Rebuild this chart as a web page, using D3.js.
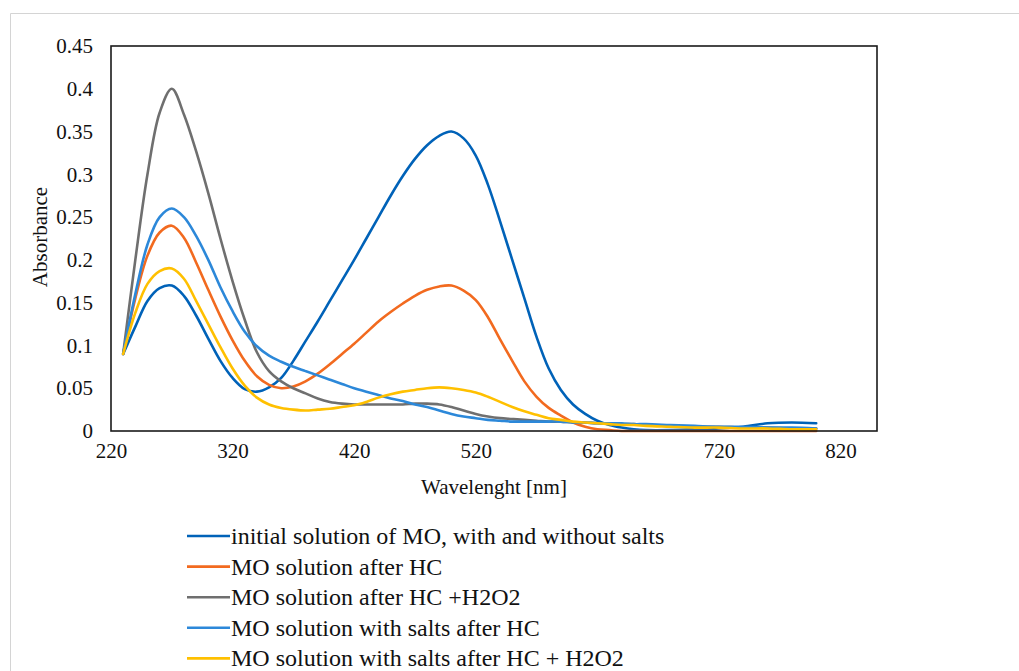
<!DOCTYPE html>
<html>
<head>
<meta charset="utf-8">
<script src="https://cdnjs.cloudflare.com/ajax/libs/d3/7.8.5/d3.min.js"></script>
<style>
  html, body { margin: 0; padding: 0; background: #fff; }
  svg text { font-family: "Liberation Serif", "Times New Roman", serif; fill: #111; }
</style>
</head>
<body>
<script>
"use strict";

// wavelengths shared by all series (nm)
const wavelengths = [
    230, 240, 250, 260, 270, 280, 290, 300, 310, 320,
    330, 340, 350, 360, 370, 380, 390, 400, 410, 420,
    430, 440, 450, 460, 470, 480, 490, 500, 510, 520,
    530, 540, 550, 560, 570, 580, 590, 600, 610, 620,
    630, 640, 650, 660, 680, 700, 720, 740, 760, 780,
    800];

const initialMO = [
    0.09, 0.122, 0.152, 0.167, 0.17, 0.158, 0.135, 0.108, 0.082, 0.062,
    0.049, 0.046, 0.051, 0.062, 0.082, 0.105, 0.128, 0.152, 0.176, 0.2,
    0.225, 0.25, 0.275, 0.298, 0.318, 0.334, 0.345, 0.35, 0.342, 0.322,
    0.288, 0.245, 0.2, 0.155, 0.11, 0.073, 0.048, 0.031, 0.02, 0.012,
    0.007, 0.004, 0.002, 0.001, 0.001, 0.002, 0.003, 0.005, 0.009, 0.01,
    0.009];
const afterHC = [
    0.09, 0.155, 0.205, 0.232, 0.24, 0.226, 0.197, 0.165, 0.134, 0.106,
    0.082, 0.064, 0.054, 0.05, 0.052, 0.058, 0.067, 0.078, 0.09, 0.102,
    0.115, 0.128, 0.139, 0.149, 0.158, 0.165, 0.169, 0.17, 0.164, 0.153,
    0.133, 0.107, 0.082, 0.058, 0.04, 0.027, 0.018, 0.01, 0.005, 0.002,
    0.001, 0, 0, 0, 0, 0, 0, 0, 0, 0,
    0];
const afterHCH2O2 = [
    0.09, 0.2, 0.3, 0.372, 0.4, 0.37, 0.327, 0.278, 0.225, 0.175,
    0.13, 0.092, 0.07, 0.058, 0.05, 0.044, 0.038, 0.034, 0.032, 0.031,
    0.031, 0.031, 0.031, 0.031, 0.032, 0.032, 0.031, 0.028, 0.024, 0.02,
    0.017, 0.015, 0.014, 0.013, 0.012, 0.011, 0.011, 0.01, 0.01, 0.009,
    0.009, 0.008, 0.008, 0.007, 0.006, 0.005, 0.005, 0.004, 0.004, 0.003,
    0.003];
const saltsHC = [
    0.09, 0.16, 0.218, 0.25, 0.26, 0.25, 0.228, 0.2, 0.168, 0.14,
    0.116, 0.099, 0.088, 0.081, 0.075, 0.07, 0.065, 0.06, 0.055, 0.05,
    0.046, 0.042, 0.038, 0.035, 0.031, 0.028, 0.024, 0.02, 0.017, 0.015,
    0.013, 0.012, 0.011, 0.011, 0.011, 0.011, 0.011, 0.01, 0.01, 0.009,
    0.009, 0.009, 0.008, 0.008, 0.007, 0.006, 0.005, 0.005, 0.004, 0.004,
    0.003];
const saltsHCH2O2 = [
    0.09, 0.138, 0.172, 0.187, 0.19, 0.178, 0.152, 0.125, 0.098, 0.073,
    0.053, 0.039, 0.031, 0.027, 0.025, 0.024, 0.025, 0.026, 0.028, 0.03,
    0.034, 0.039, 0.043, 0.046, 0.048, 0.05, 0.051, 0.05, 0.048, 0.045,
    0.04, 0.034, 0.028, 0.023, 0.019, 0.015, 0.013, 0.011, 0.01, 0.009,
    0.008, 0.007, 0.007, 0.006, 0.005, 0.004, 0.004, 0.003, 0.003, 0.002,
    0.002];

const seriesNames = [
    "initial solution of MO, with and without salts",
    "MO solution after HC",
    "MO solution after HC +H2O2",
    "MO solution with salts after HC",
    "MO solution with salts after HC + H2O2"
];
const seriesColors = ["#0062B8", "#F26A1F", "#6F6F6F", "#2C88D9", "#FFC000"];

const xTicks = [220, 320, 420, 520, 620, 720, 820];
const yTicks = [0, 0.05, 0.1, 0.15, 0.2, 0.25, 0.3, 0.35, 0.4, 0.45];

const measurements = {
    width: 1019,
    height: 671,
    left: 111,
    right: 877,
    top: 46,
    bottom: 431
};

window.onload = function() {
    const svg = d3.select("body").append("svg")
        .attr("width", measurements.width)
        .attr("height", measurements.height);

    // outer card frame (only left and top edges are visible)
    svg.append("path")
        .attr("d", "M10.5," + measurements.height + "V13.5H" + measurements.width)
        .attr("fill", "none")
        .attr("stroke", "#d4d4d4")
        .attr("stroke-width", 1);

    const scaleX = d3.scaleLinear()
        .domain([220, 850])
        .range([measurements.left, measurements.right]);
    const scaleY = d3.scaleLinear()
        .domain([0, 0.45])
        .range([measurements.bottom, measurements.top]);

    const series = [initialMO, afterHC, afterHCH2O2, saltsHC, saltsHCH2O2];

    const line = d3.line()
        .x((d, i) => scaleX(wavelengths[i]))
        .y(d => scaleY(d))
        .curve(d3.curveCatmullRom.alpha(0.5));

    svg.append("g").selectAll("path")
        .data(series)
        .enter()
        .append("path")
        .attr("d", line)
        .attr("fill", "none")
        .attr("stroke", (d, i) => seriesColors[i])
        .attr("stroke-width", 2.6)
        .attr("stroke-linejoin", "round")
        .attr("stroke-linecap", "round");

    // plot frame
    svg.append("rect")
        .attr("x", measurements.left)
        .attr("y", measurements.top)
        .attr("width", measurements.right - measurements.left)
        .attr("height", measurements.bottom - measurements.top)
        .attr("fill", "none")
        .attr("stroke", "#1a1a1a")
        .attr("stroke-width", 1.6);

    const xAxis = d3.axisBottom(scaleX)
        .tickValues(xTicks)
        .tickSize(0)
        .tickPadding(12)
        .tickFormat(d3.format("d"));
    const yAxis = d3.axisLeft(scaleY)
        .tickValues(yTicks)
        .tickSize(0)
        .tickPadding(18)
        .tickFormat(d => String(d));

    const gx = svg.append("g")
        .attr("transform", "translate(0," + measurements.bottom + ")")
        .call(xAxis);
    const gy = svg.append("g")
        .attr("transform", "translate(" + measurements.left + ",0)")
        .call(yAxis);
    [gx, gy].forEach(g => {
        g.select(".domain").remove();
        g.selectAll("text")
            .style("font-family", "'Liberation Serif', 'Times New Roman', serif")
            .style("font-size", "21px")
            .attr("fill", "#111");
    });

    svg.append("text")
        .attr("x", 494)
        .attr("y", 494)
        .attr("text-anchor", "middle")
        .style("font-size", "21px")
        .text("Wavelenght [nm]");

    svg.append("text")
        .attr("transform", "translate(47,237)rotate(-90)")
        .attr("text-anchor", "middle")
        .style("font-size", "21px")
        .text("Absorbance");

    // legend
    const legend = svg.append("g").selectAll("g")
        .data(seriesNames)
        .enter()
        .append("g")
        .attr("transform", (d, i) => "translate(187," + (536 + i * 30.6) + ")");
    legend.append("line")
        .attr("x1", 0).attr("x2", 43)
        .attr("y1", 0).attr("y2", 0)
        .attr("stroke", (d, i) => seriesColors[i])
        .attr("stroke-width", 2.6);
    legend.append("text")
        .attr("x", 44)
        .attr("y", 8)
        .style("font-size", "24px")
        .text(d => d);
};
</script>
</body>
</html>
